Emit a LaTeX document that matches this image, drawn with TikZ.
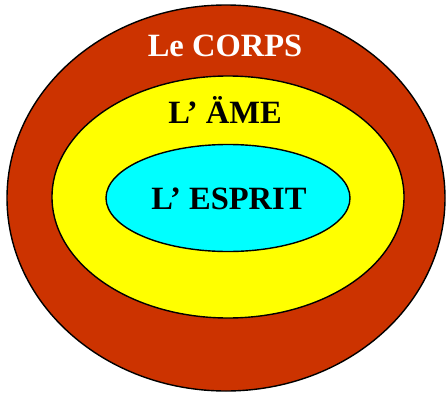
\documentclass[tikz,border=0pt]{standalone}
\usepackage{fontspec}
\setmainfont{Liberation Serif}
\usetikzlibrary{shapes.geometric}
\definecolor{corpsred}{HTML}{CC3300}
\definecolor{ameyellow}{HTML}{FFFF00}
\definecolor{espritcyan}{HTML}{00FFFF}
\begin{document}
\begin{tikzpicture}
        [x=1pt, y=1pt,
        zone/.style={ellipse, draw, line width=1.4pt, inner sep=0pt},
        title/.style={anchor=base, font=\fontsize{32.5}{32.5}\selectfont\bfseries, inner sep=0pt}]

        \useasboundingbox (0,0) rectangle (446,-393);

        % nested zones
        \node[zone, fill=corpsred, minimum width=438pt, minimum height=386pt] (corps) at (226,-198) {};
        \node[zone, fill=ameyellow, minimum width=352pt, minimum height=242pt] (ame) at (228,-197) {};
        \node[zone, fill=espritcyan, minimum width=244pt, minimum height=107pt] (esprit) at (228,-198) {};

        % labels
        \node[title, text=white] (corpslabel) at (225,-57) {Le CORPS};
        \node[title] (amelabel) at (225,-123) {L’ ÄME};
        \node[title] (espritlabel) at (229,-209) {L’ ESPRIT};

\end{tikzpicture}
\end{document}
